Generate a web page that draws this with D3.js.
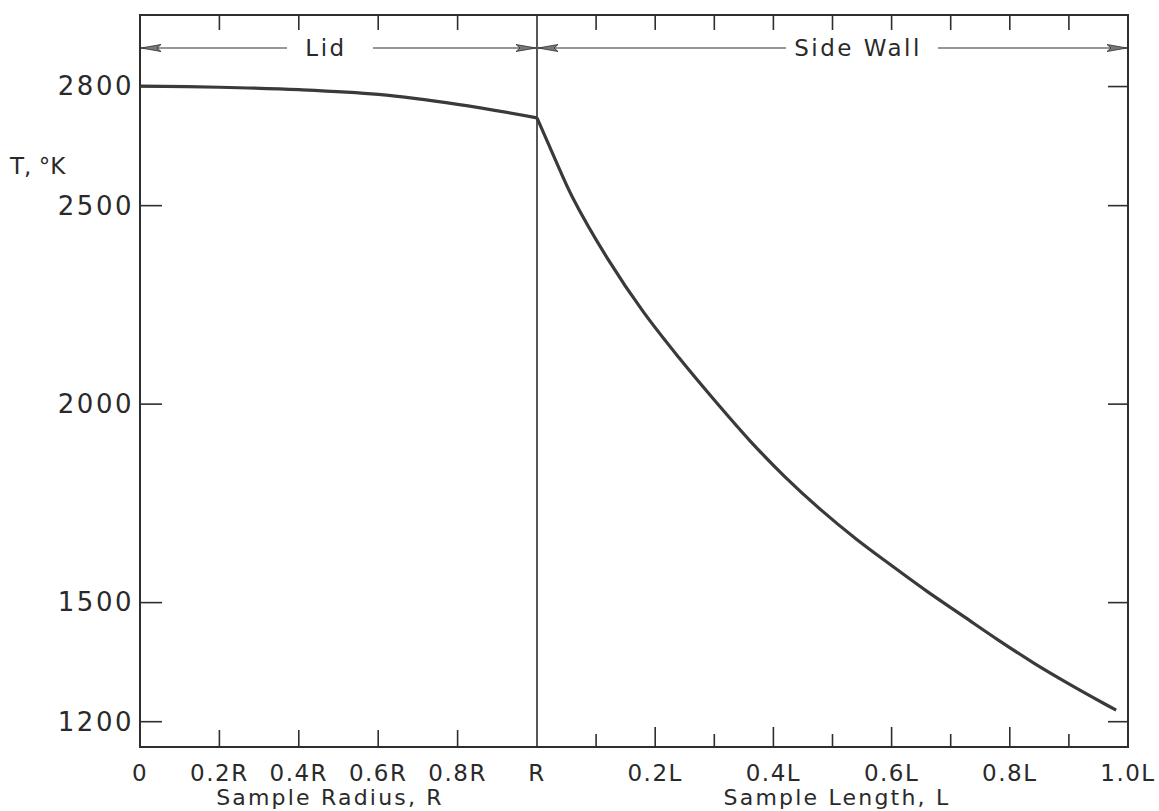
<!DOCTYPE html>
<html>
<head>
<meta charset="utf-8">
<script src="https://cdn.jsdelivr.net/npm/d3@7"></script>
<style>
  html, body { margin: 0; padding: 0; background: #fff; }
  svg text { font-family: "DejaVu Sans", "Liberation Sans", sans-serif; fill: #2a2a2a; }
</style>
</head>
<body>
<svg id="chart" width="1159" height="811"></svg>
<script>
// ---- data ----
const lidR = [0, 0.2, 0.4, 0.6, 0.8, 1.0];
const lidT = [2800, 2797, 2791, 2779, 2754, 2720];

const wallL = [0, 0.03, 0.06, 0.12, 0.18, 0.24, 0.30, 0.36, 0.42, 0.48, 0.54, 0.60, 0.66, 0.72, 0.78, 0.84, 0.90, 0.96, 0.98];
const wallT = [2720, 2618, 2520, 2364, 2231, 2116, 2009, 1907, 1815, 1733, 1659, 1592, 1527, 1466, 1405, 1347, 1294, 1244, 1228];

const yTicks = [1200, 1500, 2000, 2500, 2800];
const lidTicks = [0, 0.2, 0.4, 0.6, 0.8, 1.0];
const lidTickLabels = ["0", "0.2R", "0.4R", "0.6R", "0.8R", "R"];
const wallMajorTicks = [0.2, 0.4, 0.6, 0.8, 1.0];
const wallMajorLabels = ["0.2L", "0.4L", "0.6L", "0.8L", "1.0L"];
const wallMinorTicks = [0.1, 0.3, 0.5, 0.7, 0.9];
const topWallTicks = [0.1, 0.2, 0.3, 0.4, 0.5, 0.6, 0.7, 0.8, 0.9];
const topLidTicks = [0.2, 0.4, 0.6, 0.8];

(function () {
// ---- layout ----
const svg = d3.select("#chart");
const pLeft = 140, pRight = 1128, pTop = 15, pBottom = 747, split = 537;
const ink = "#2e2e2e";

const y = d3.scaleLinear().domain([1135, 2979]).range([pBottom, pTop]);
const xR = d3.scaleLinear().domain([0, 1]).range([pLeft, split]);
const xL = d3.scaleLinear().domain([0, 1]).range([split, pRight]);

// frame
svg.append("rect").attr("x", pLeft).attr("y", pTop)
  .attr("width", pRight - pLeft).attr("height", pBottom - pTop)
  .attr("fill", "none").attr("stroke", ink).attr("stroke-width", 2);
// divider at R
svg.append("line").attr("x1", split).attr("x2", split).attr("y1", pTop).attr("y2", pBottom)
  .attr("stroke", ink).attr("stroke-width", 1.6);

// left y axis ticks
const yAxisL = d3.axisRight(y).tickValues(yTicks).tickSize(22).tickFormat("");
const gL = svg.append("g").attr("transform", `translate(${pLeft},0)`).call(yAxisL);
gL.select(".domain").remove();
gL.selectAll("line").attr("stroke", ink).attr("stroke-width", 1.6);

// y labels
svg.append("g").selectAll("text").data(yTicks).join("text")
  .attr("x", pLeft - 6).attr("y", d => y(d))
  .attr("dy", "0.36em").attr("text-anchor", "end")
  .attr("font-size", 26).attr("letter-spacing", 2.5)
  .text(d => d);

// right y axis ticks
const yAxisR = d3.axisLeft(y).tickValues(yTicks).tickSize(20).tickFormat("");
const gR = svg.append("g").attr("transform", `translate(${pRight},0)`).call(yAxisR);
gR.select(".domain").remove();
gR.selectAll("line").attr("stroke", ink).attr("stroke-width", 1.6);

// x ticks
function ticks(scale, vals, y0, len) {
  svg.append("g").selectAll("line").data(vals).join("line")
    .attr("x1", d => scale(d)).attr("x2", d => scale(d))
    .attr("y1", y0).attr("y2", y0 + len)
    .attr("stroke", ink).attr("stroke-width", 1.6);
}
ticks(xR, [0.2, 0.4, 0.6, 0.8], pBottom, -17);
ticks(xL, [0.2, 0.4, 0.6, 0.8], pBottom, -20);
ticks(xL, wallMinorTicks, pBottom, -13);
ticks(xR, topLidTicks, pTop, 15);
ticks(xL, topWallTicks, pTop, 15);

// bottom labels
svg.append("g").selectAll("text").data(lidTicks).join("text")
  .attr("x", d => xR(d)).attr("y", 781)
  .attr("text-anchor", "middle").attr("font-size", 23).attr("letter-spacing", 1.5)
  .text((d, i) => lidTickLabels[i]);
svg.append("g").selectAll("text").data(wallMajorTicks).join("text")
  .attr("x", d => xL(d)).attr("y", 781)
  .attr("text-anchor", "middle").attr("font-size", 23).attr("letter-spacing", 1.5)
  .text((d, i) => wallMajorLabels[i]);

svg.append("text").attr("x", 330).attr("y", 805).attr("text-anchor", "middle")
  .attr("font-size", 22).attr("letter-spacing", 2.2).text("Sample Radius, R");
svg.append("text").attr("x", 837).attr("y", 805).attr("text-anchor", "middle")
  .attr("font-size", 22).attr("letter-spacing", 2.2).text("Sample Length, L");

// y title
svg.append("text").attr("x", 10).attr("y", 174).attr("font-size", 23)
  .text("T, °K");

// region arrows
const defs = svg.append("defs");
defs.append("marker").attr("id", "arrow").attr("viewBox", "0 0 20 8")
  .attr("refX", 20).attr("refY", 4).attr("markerWidth", 20).attr("markerHeight", 8)
  .attr("markerUnits", "userSpaceOnUse").attr("orient", "auto-start-reverse")
  .append("path").attr("d", "M0,0.5 L20,4 L0,7.5 L4,4 Z").attr("fill", "#777").attr("stroke", ink).attr("stroke-width", 0.8);

const arrowY = 48;
function region(x0, x1, gap0, gap1, label, cx) {
  svg.append("line").attr("x1", x0 + 1).attr("x2", gap0).attr("y1", arrowY).attr("y2", arrowY)
    .attr("stroke", ink).attr("stroke-width", 1.2).attr("marker-start", "url(#arrow)");
  svg.append("line").attr("x1", gap1).attr("x2", x1 - 1).attr("y1", arrowY).attr("y2", arrowY)
    .attr("stroke", ink).attr("stroke-width", 1.2).attr("marker-end", "url(#arrow)");
  svg.append("text").attr("x", cx).attr("y", arrowY).attr("dy", "0.36em")
    .attr("text-anchor", "middle").attr("font-size", 23).attr("letter-spacing", 2.5).text(label);
}
region(pLeft, split, 287, 373, "Lid", 326);
region(split, pRight, 786, 938, "Side Wall", 858);

// curve
const lidData = lidR.map((r, i) => [xR(r), y(lidT[i])]);
const wallData = wallL.map((l, i) => [xL(l), y(wallT[i])]);
const line = d3.line().curve(d3.curveCatmullRom.alpha(0.5));
svg.append("path").attr("d", line(lidData)).attr("fill", "none")
  .attr("stroke", "#3a3a3a").attr("stroke-width", 3.2).attr("stroke-linejoin", "round");
svg.append("path").attr("d", line(wallData)).attr("fill", "none")
  .attr("stroke", "#3a3a3a").attr("stroke-width", 3.2).attr("stroke-linejoin", "round");
})();
</script>
</body>
</html>
